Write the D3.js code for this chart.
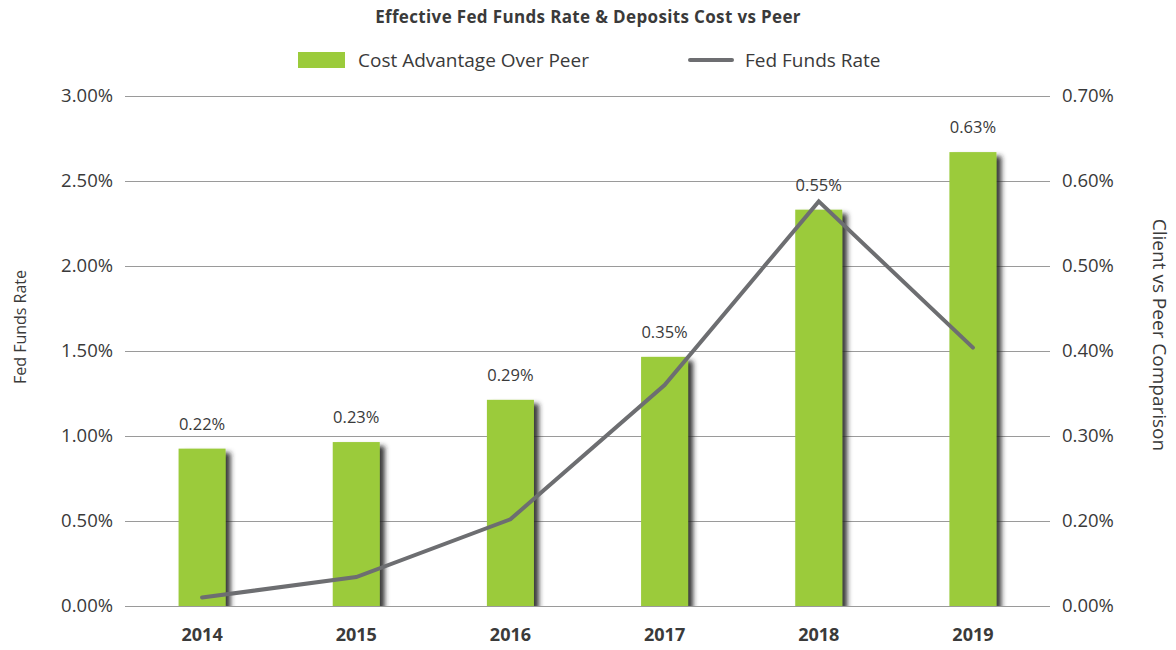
<!DOCTYPE html>
<html>
<head>
<meta charset="utf-8">
<script src="https://cdn.jsdelivr.net/npm/d3@7"></script>
<style>
  body { margin: 0; background: #fff; }
  svg text { font-family: "Open Sans", "DejaVu Sans", sans-serif; fill: #3a3a3a; }
</style>
</head>
<body>
<svg id="chart" width="1176" height="650"></svg>
<script>
// Data
const years = ["2014", "2015", "2016", "2017", "2018", "2019"];
const costAdvantage = [0.216, 0.225, 0.283, 0.342, 0.544, 0.623];
const costLabels = ["0.22%", "0.23%", "0.29%", "0.35%", "0.55%", "0.63%"];
const fedFunds = [0.05, 0.17, 0.51, 1.30, 2.38, 1.52];
const leftTicks = [0, 0.5, 1, 1.5, 2, 2.5, 3];
// right-hand labels as printed on the source (no 0.10% step)
const rightTickLabels = ["0.00%", "0.20%", "0.30%", "0.40%", "0.50%", "0.60%", "0.70%"];

const green = "#9bcb3b", lineGray = "#6d6e71";
const margin = { left: 125, right: 1050, top: 96, bottom: 606 };

const svg = d3.select("#chart");

// Shadow for bars
const defs = svg.append("defs");
const filter = defs.append("filter").attr("id", "bar-shadow")
  .attr("x", "-20%").attr("y", "-10%").attr("width", "160%").attr("height", "130%");
filter.append("feDropShadow")
  .attr("dx", 5).attr("dy", 4).attr("stdDeviation", 2.8)
  .attr("flood-color", "#222").attr("flood-opacity", 0.9);
defs.append("clipPath").attr("id", "plot-clip")
  .append("rect").attr("x", margin.left).attr("y", 0)
  .attr("width", margin.right - margin.left).attr("height", margin.bottom);

const x = d3.scaleBand().domain(years)
  .range([margin.left, margin.right])
  .paddingInner(0.695).paddingOuter(0.3475);
const yLeft = d3.scaleLinear().domain([0, 3]).range([margin.bottom, margin.top]);
const yRight = d3.scaleLinear().domain([0, 0.7]).range([margin.bottom, margin.top]);

// Title
svg.append("text")
  .attr("x", 588).attr("y", 23)
  .attr("text-anchor", "middle")
  .style("font-size", "17px").style("font-weight", "700")
  .style("letter-spacing", "0.35px")
  .text("Effective Fed Funds Rate & Deposits Cost vs Peer");

// Legend
const legend = svg.append("g");
legend.append("rect").attr("x", 298).attr("y", 52).attr("width", 47).attr("height", 16).attr("fill", green);
legend.append("text").attr("x", 358).attr("y", 67).style("font-size", "19px").text("Cost Advantage Over Peer");
legend.append("line").attr("x1", 690).attr("x2", 732).attr("y1", 60).attr("y2", 60)
  .attr("stroke", lineGray).attr("stroke-width", 4).attr("stroke-linecap", "round");
legend.append("text").attr("x", 745).attr("y", 67).style("font-size", "19px").text("Fed Funds Rate");

// Gridlines
svg.append("g").selectAll("line")
  .data(leftTicks)
  .join("line")
  .attr("x1", margin.left).attr("x2", margin.right)
  .attr("y1", d => Math.round(yLeft(d)) + 0.5).attr("y2", d => Math.round(yLeft(d)) + 0.5)
  .attr("stroke", "#9a9a9a").attr("stroke-width", 1);

// Left axis
const leftAxis = svg.append("g")
  .attr("transform", `translate(${margin.left},0)`)
  .call(d3.axisLeft(yLeft).tickValues(leftTicks).tickSize(0).tickPadding(12)
    .tickFormat(d => d.toFixed(2) + "%"));
leftAxis.select(".domain").remove();
leftAxis.selectAll("text").style("font-size", "18.5px").style("font-family", null).attr("fill", null);

// Right axis (labels sit on the shared gridlines)
const rightAxis = svg.append("g")
  .attr("transform", `translate(${margin.right},0)`)
  .call(d3.axisRight(yLeft).tickValues(leftTicks).tickSize(0).tickPadding(12)
    .tickFormat((d, i) => rightTickLabels[i]));
rightAxis.select(".domain").remove();
rightAxis.selectAll("text").style("font-size", "18.5px").style("font-family", null).attr("fill", null);

// Bottom axis
const bottomAxis = svg.append("g")
  .attr("transform", `translate(0,${margin.bottom})`)
  .call(d3.axisBottom(x).tickSize(0).tickPadding(22));
bottomAxis.select(".domain").remove();
bottomAxis.selectAll("text").style("font-size", "18px").style("font-weight", "700")
  .style("font-family", null).attr("fill", null);

// Axis titles
svg.append("text")
  .attr("transform", "translate(26,327) rotate(-90)")
  .attr("text-anchor", "middle")
  .style("font-size", "16px")
  .text("Fed Funds Rate");
svg.append("text")
  .attr("transform", "translate(1153,335) rotate(90)")
  .attr("text-anchor", "middle")
  .style("font-size", "19px")
  .text("Client vs Peer Comparison");

// Bars
const barBw = x.bandwidth();
svg.append("g").attr("clip-path", "url(#plot-clip)")
  .selectAll("rect")
  .data(years)
  .join("rect")
  .attr("x", d => x(d))
  .attr("y", (d, i) => yRight(costAdvantage[i]))
  .attr("width", barBw)
  .attr("height", (d, i) => margin.bottom - yRight(costAdvantage[i]))
  .attr("fill", green)
  .attr("filter", "url(#bar-shadow)");

// Bottom baseline over bar shadows
svg.append("line")
  .attr("x1", margin.left).attr("x2", margin.right)
  .attr("y1", margin.bottom + 0.5).attr("y2", margin.bottom + 0.5)
  .attr("stroke", "#9a9a9a");

// Bar labels
svg.append("g").selectAll("text")
  .data(years)
  .join("text")
  .attr("x", d => x(d) + barBw / 2)
  .attr("y", (d, i) => yRight(costAdvantage[i]) - 19)
  .attr("text-anchor", "middle")
  .style("font-size", "16.5px")
  .text((d, i) => costLabels[i]);

// Fed funds line
const line = d3.line()
  .x((d, i) => x(years[i]) + barBw / 2)
  .y(d => yLeft(d));
svg.append("path")
  .datum(fedFunds)
  .attr("d", line)
  .attr("fill", "none")
  .attr("stroke", lineGray)
  .attr("stroke-width", 4)
  .attr("stroke-linecap", "round")
  .attr("stroke-linejoin", "miter");
</script>
</body>
</html>
